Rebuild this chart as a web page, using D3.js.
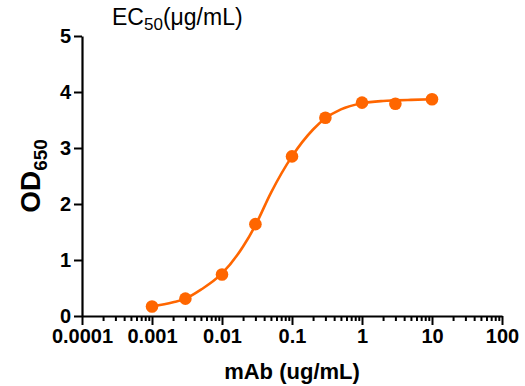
<!DOCTYPE html>
<html>
<head>
<meta charset="utf-8">
<script src="https://cdn.jsdelivr.net/npm/d3@7"></script>
<style>
  html, body { margin: 0; padding: 0; background: #fff; }
  svg { display: block; }
  text { font-family: "Liberation Sans", Arial, Helvetica, sans-serif; }
</style>
</head>
<body>
<svg id="chart" width="525" height="386"></svg>
<script>
// Measured points
const concentrations = [0.001, 0.003, 0.01, 0.03, 0.1, 0.3, 1, 3, 10];
const odValues = [0.17, 0.31, 0.74, 1.64, 2.85, 3.54, 3.81, 3.79, 3.87];

// Fitted curve
const curveX = [0.001, 0.002, 0.003, 0.005, 0.01, 0.02, 0.03, 0.05, 0.1, 0.2, 0.3, 0.5, 1, 2, 3, 5, 10];
const curveY = [0.17, 0.245, 0.31, 0.47, 0.76, 1.24, 1.62, 2.2, 2.85, 3.33, 3.53, 3.69, 3.8, 3.84, 3.85, 3.86, 3.87];

const xTickValues = [0.0001, 0.001, 0.01, 0.1, 1, 10, 100];
const xTickLabels = ["0.0001", "0.001", "0.01", "0.1", "1", "10", "100"];
const yTickValues = [0, 1, 2, 3, 4, 5];

const color = "#FF6600";
const svg = d3.select("#chart");

const x = d3.scaleLog().domain([0.0001, 100]).range([82, 502]);
const y = d3.scaleLinear().domain([0, 5]).range([316, 36]);

// minor ticks
const minorTicks = [];
for (let e = -4; e < 2; e++) {
  for (let m = 2; m <= 9; m++) minorTicks.push(m * Math.pow(10, e));
}

const xAxisG = svg.append("g").attr("transform", `translate(0,${y(0)})`);
xAxisG.call(d3.axisBottom(x).tickValues(minorTicks).tickSize(5).tickFormat(""))
  .call(g => g.select(".domain").remove())
  .call(g => g.selectAll(".tick line").attr("stroke", "#000").attr("stroke-width", 2));

const xMajor = svg.append("g").attr("transform", `translate(0,${y(0)})`);
xMajor.call(d3.axisBottom(x).tickValues(xTickValues).tickSize(9).tickSizeOuter(0)
    .tickFormat((d, i) => xTickLabels[i]).tickPadding(4))
  .call(g => g.select(".domain").attr("stroke", "#000").attr("stroke-width", 2.2))
  .call(g => g.selectAll(".tick line").attr("stroke", "#000").attr("stroke-width", 2))
  .call(g => g.selectAll(".tick text").attr("fill", "#000")
      .attr("font-size", 20).attr("font-weight", "bold")
      .attr("font-family", "'Liberation Sans', Arial, sans-serif"));

const yAxisG = svg.append("g").attr("transform", `translate(${x(0.0001)},0)`);
yAxisG.call(d3.axisLeft(y).tickValues(yTickValues).tickSize(8).tickSizeOuter(0).tickPadding(3)
    .tickFormat(d3.format("d")))
  .call(g => g.select(".domain").attr("stroke", "#000").attr("stroke-width", 2.2))
  .call(g => g.selectAll(".tick line").attr("stroke", "#000").attr("stroke-width", 2))
  .call(g => g.selectAll(".tick text").attr("fill", "#000")
      .attr("font-size", 20).attr("font-weight", "bold")
      .attr("font-family", "'Liberation Sans', Arial, sans-serif"));

// Curve
const line = d3.line()
  .x((d, i) => x(curveX[i]))
  .y(d => y(d))
  .curve(d3.curveMonotoneX);
svg.append("path")
  .attr("d", line(curveY))
  .attr("fill", "none")
  .attr("stroke", color)
  .attr("stroke-width", 2.6);

// Points
svg.append("g").selectAll("circle")
  .data(odValues)
  .join("circle")
  .attr("cx", (d, i) => x(concentrations[i]))
  .attr("cy", d => y(d))
  .attr("r", 6.3)
  .attr("fill", color);

// Title
const title = svg.append("text")
  .attr("x", 112).attr("y", 25)
  .attr("font-size", 23).attr("fill", "#000");
title.append("tspan").text("EC");
title.append("tspan").attr("font-size", 17).attr("dy", 5).text("50");
title.append("tspan").attr("dy", -5).text("(\u03BCg/mL)");

// X label
svg.append("text")
  .attr("x", 292).attr("y", 379)
  .attr("text-anchor", "middle")
  .attr("font-size", 22).attr("font-weight", "bold")
  .attr("fill", "#000")
  .text("mAb (ug/mL)");

// Y label
const yl = svg.append("text")
  .attr("transform", "translate(40,176) rotate(-90)")
  .attr("text-anchor", "middle")
  .attr("font-size", 28).attr("font-weight", "bold")
  .attr("fill", "#000");
yl.append("tspan").text("OD");
yl.append("tspan").attr("font-size", 19).attr("dy", 7).text("650");
</script>
</body>
</html>
